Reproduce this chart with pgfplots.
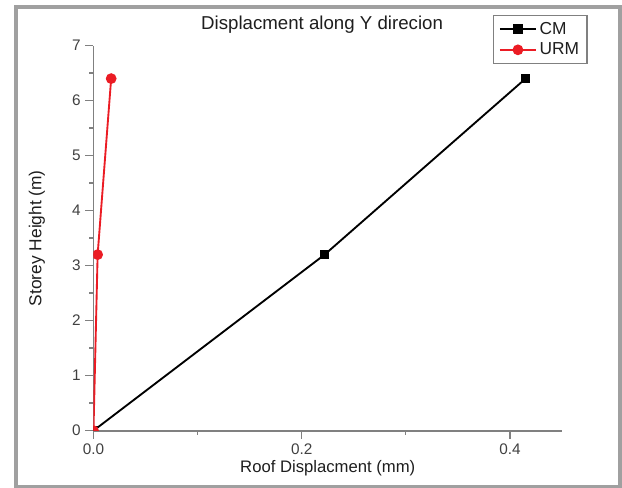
\documentclass[border=0pt]{standalone}
\usepackage{fontspec}
\setmainfont{Liberation Sans}
\usepackage{pgfplots}
\pgfplotsset{compat=1.18}

\definecolor{framegray}{RGB}{160,160,160}
\definecolor{axisgray}{RGB}{128,128,128}
\definecolor{urmred}{RGB}{235,28,36}
\definecolor{txt}{RGB}{30,30,30}

\begin{document}
\begin{tikzpicture}[x=0.75pt,y=0.75pt]
\path[use as bounding box] (0,0) rectangle (622,488);
\draw[line width=3pt, framegray] (16,1) rectangle (620,481);
\begin{axis}[
    at={(70.1pt,43pt)}, anchor=south west,
    scale only axis,
    width=351.4pt, height=288.8pt,
    xmin=0, xmax=0.45, ymin=0, ymax=7,
    axis x line*=bottom, axis y line*=left,
    axis line style={-, axisgray, line width=1.4pt},
    xtick={0,0.2,0.4}, minor xtick={0.1,0.3},
    ytick={0,1,...,7}, minor ytick={0.5,1.5,...,6.5},
    tick align=outside,
    major tick length=6pt, minor tick length=3pt,
    every tick/.style={axisgray, line width=1pt},
    xticklabel style={/pgf/number format/.cd, fixed, fixed zerofill, precision=1},
    /pgf/number format/assume math mode=true,
    tick label style={font=\fontsize{11.5}{13}\selectfont, text=txt!85},
    xlabel={Roof Displacment (mm)},
    ylabel={Storey Height (m)},
    label style={font=\fontsize{12.5}{15}\selectfont, text=txt},
    xlabel style={at={(axis description cs:0.5,-0.097)}, anchor=center},
    ylabel style={at={(axis description cs:-0.121,0.5)}, anchor=center, font=\fontsize{13}{15}\selectfont},
    title={Displacment along Y direcion},
    title style={at={(axis description cs:0.488,1.033)}, anchor=center, font=\fontsize{14}{16}\selectfont, text=txt},
    clip marker paths=true,
    legend style={at={(axis description cs:0.853,1.0797)}, anchor=north west,
        draw=axisgray, line width=0.8pt, font=\fontsize{13}{15}\selectfont, text=txt,
        inner xsep=4pt, inner ysep=3pt, row sep=1pt},
    legend cell align=left,
    legend image code/.code={\draw[mark repeat=2,mark phase=2,#1] plot coordinates {(0pt,0pt) (13.5pt,0pt) (27pt,0pt)};},
]
\addplot[black, line width=1.4pt, mark=square*, mark size=2.9pt, mark options={solid}] coordinates {
    (0,0)
    (0.222,3.2)
    (0.415,6.4)
};
\addlegendentry{CM}
\addplot[urmred, line width=1.4pt, mark=*, mark size=3.3pt, mark options={solid}] coordinates {
    (0,0)
    (0.004,3.2)
    (0.017,6.4)
};
\addlegendentry{URM}
\end{axis}
\end{tikzpicture}
\end{document}
